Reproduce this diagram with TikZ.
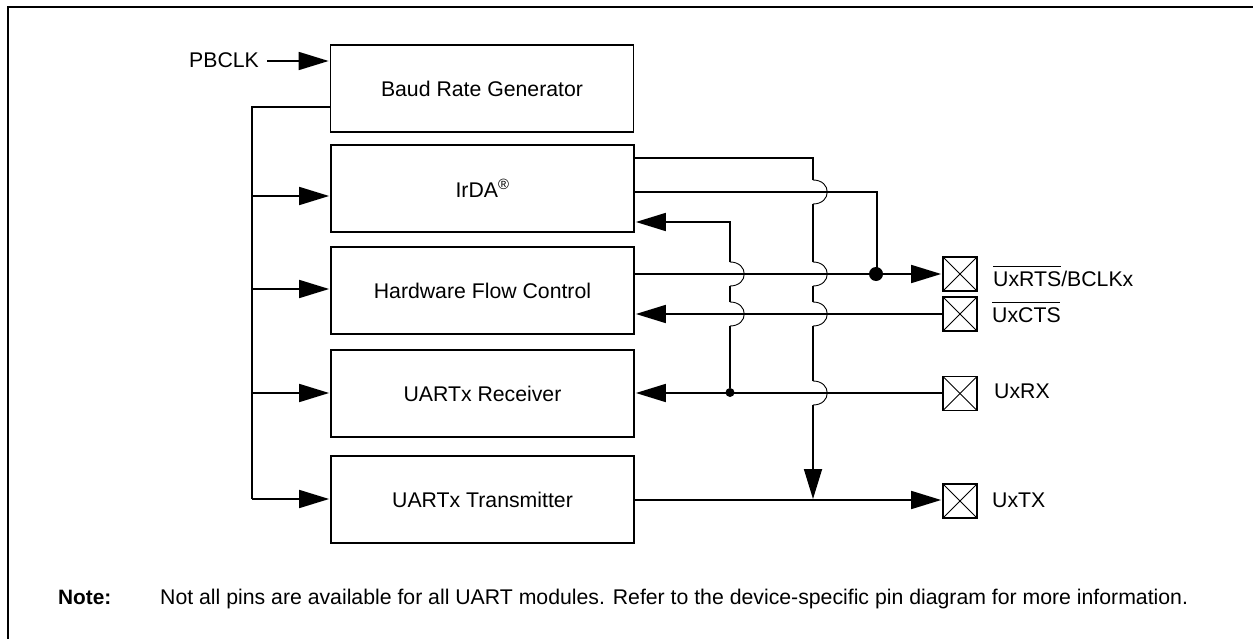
\documentclass[tikz,border=0pt]{standalone}
\usepackage{fontspec}
\setmainfont{Liberation Sans}
\usetikzlibrary{arrows.meta}
\tikzset{
  x=1pt,y=-1pt,
  blockbox/.style={draw,line width=1.75pt,minimum width=303pt,minimum height=87pt,inner sep=0pt,font=\fontsize{21.25}{24}\selectfont},
  pinbox/.style={draw,line width=1.75pt,minimum width=34pt,minimum height=34pt,inner sep=0pt,path picture={
    \draw[line width=.9pt] (path picture bounding box.north west) -- (path picture bounding box.south east);
    \draw[line width=.9pt] (path picture bounding box.south west) -- (path picture bounding box.north east);}},
  wire/.style={line width=1.75pt},
  jump/.style={line width=.9pt},
  tip/.style={-{Triangle[length=30pt,width=18pt]},shorten >=1pt},
  lbl/.style={inner sep=0pt,anchor=base west,font=\fontsize{21.25}{24}\selectfont},
  smalldot/.style={circle,fill,inner sep=0pt,minimum size=9pt},
  bigdot/.style={circle,fill,inner sep=0pt,minimum size=14pt},
}
\newcommand{\hop}[2]{% x, y: semicircular bump on a vertical wire
  \draw[jump] (#1,#2-12) .. controls (#1+19,#2-12) and (#1+19,#2+12) .. (#1,#2+12);}
\begin{document}
\begin{tikzpicture}
\useasboundingbox (0,0) rectangle (1253,639);
\draw[line width=1.75pt] (8,639) -- (8,7) -- (1253,7);
\node[blockbox] (baud) at (482,88.5) {Baud Rate Generator};
\node[blockbox] (irda) at (482.5,188.5) {IrDA\textsuperscript{®}};
\node[blockbox] (hfc) at (482.5,290.5) {Hardware Flow Control};
\node[blockbox] (rx) at (482.5,393.5) {UARTx Receiver};
\node[blockbox] (tx) at (482.5,499.5) {UARTx Transmitter};
\node[pinbox] (prts) at (960,274) {};
\node[pinbox] (pcts) at (960,314) {};
\node[pinbox] (prx) at (960,393.5) {};
\node[pinbox] (ptx) at (960,501) {};
\node[lbl] (lrts) at (993,286) {\rlap{\rule[19.5pt]{68pt}{.9pt}}UxRTS/BCLKx};
\node[lbl] (lcts) at (992,322) {\rlap{\rule[19.5pt]{68pt}{.9pt}}UxCTS};
\node[lbl] (lrx) at (994,398) {UxRX};
\node[lbl] (ltx) at (992,507) {UxTX};
\node[lbl] (pb) at (189,68) {PBCLK};
\node[lbl,font=\bfseries\fontsize{20.8}{24}\selectfont] (note) at (58,604) {Note:};
\node[lbl] (notet) at (160,604) {Not all pins are available for all UART modules. Refer to the device-specific pin diagram for more information.};
% clock
\draw[wire,tip] (267,61) -- (baud.west |- 0,61);
\coordinate (bustop) at (252,107);
\coordinate (busbot) at (252,499);
\draw[wire] (baud.west |- bustop) -- (bustop) -- (busbot);
\draw[wire,tip] (252,196) -- (irda.west |- 0,196);
\draw[wire,tip] (252,289) -- (hfc.west |- 0,289);
\draw[wire,tip] (252,393) -- (rx.west |- 0,393);
\draw[wire,tip] (busbot) -- (tx.west |- busbot);
% horizontal wires
\draw[wire] (irda.east |- 0,192) -- (877,192) -- (877,274);
\draw[wire,tip] (hfc.east |- prts) -- (prts.west);
\node[bigdot] (dotrts) at (876,274) {};
\draw[wire,tip] (pcts.west) -- (hfc.east |- pcts);
\draw[wire,tip] (prx.west |- 0,393) -- (rx.east |- 0,393);
\node[smalldot] (dotrx) at (730,392.5) {};
\draw[wire,tip] (tx.east |- 0,500) -- (ptx.west |- 0,500);
% vertical wire at 730
\draw[wire,tip] (730,262) -- (730,222) -- (irda.east |- 0,222);
\draw[wire] (730,286) -- (730,302);
\draw[wire] (730,326) -- (dotrx);
\hop{730}{274}\hop{730}{314}
% vertical wire at 813
\draw[wire] (irda.east |- 0,158) -- (813,158) -- (813,180);
\draw[wire] (813,204) -- (813,262);
\draw[wire] (813,286) -- (813,302);
\draw[wire] (813,326) -- (813,381);
\draw[wire,tip,shorten >=0pt] (813,405) -- (813,499);
\hop{813}{192}\hop{813}{274}\hop{813}{314}\hop{813}{393}
\end{tikzpicture}
\end{document}
